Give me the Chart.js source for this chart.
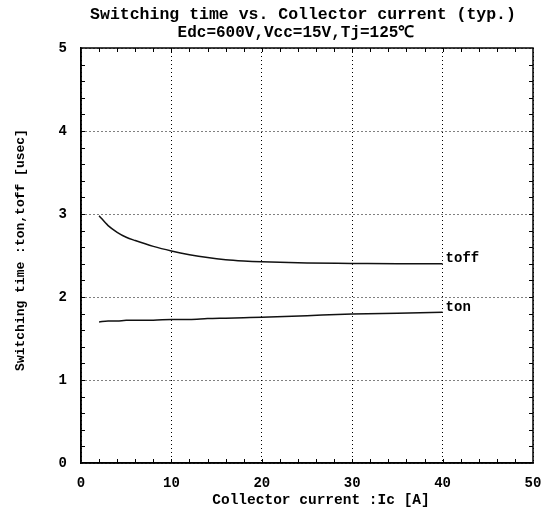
<!DOCTYPE html>
<html>
<head>
<meta charset="utf-8">
<script src="https://cdn.jsdelivr.net/npm/chart.js@4"></script>
<style>
  html, body { margin: 0; padding: 0; background: #fff; }
  #wrap { width: 555px; height: 517px; }
</style>
</head>
<body>
<div id="wrap"><canvas id="swChart" width="555" height="517"></canvas></div>
<script>
// 그래프 값
const current = [2, 3, 4, 5, 6, 8, 10, 12, 14, 16, 18, 20, 25, 30, 35, 40]; // Ic [A]
const toff = [2.98, 2.86, 2.78, 2.72, 2.68, 2.61, 2.555, 2.51, 2.475, 2.45, 2.435, 2.425, 2.41, 2.405, 2.40, 2.40];
const ton = [1.70, 1.71, 1.71, 1.72, 1.72, 1.72, 1.73, 1.73, 1.74, 1.745, 1.75, 1.755, 1.775, 1.795, 1.805, 1.815];
const xTicks = [0, 10, 20, 30, 40, 50];
const yTicks = [0, 1, 2, 3, 4, 5];
const seriesNames = ["toff", "ton"];
const titleLines = ["Switching time vs. Collector current (typ.)", "Edc=600V,Vcc=15V,Tj=125\u2103"];
const xTitle = "Collector current :Ic [A]";
const yTitle = "Switching time :ton,toff [usec]";

const FONT = "'Liberation Mono', 'DejaVu Sans Mono', monospace";

// 안쪽 보조 눈금, 곡선 이름, 제목들
const extras = {
  id: "extras",
  afterDraw(chart) {
    const { ctx, chartArea: a, scales: { x, y } } = chart;
    ctx.save();
    ctx.strokeStyle = "#000";
    ctx.lineWidth = 1;
    ctx.beginPath();
    for (let v = 2; v < 50; v += 2) {
      const px = Math.round(x.getPixelForValue(v)) + 0.5;
      ctx.moveTo(px, a.bottom); ctx.lineTo(px, a.bottom - 4);
      ctx.moveTo(px, a.top); ctx.lineTo(px, a.top + 4);
    }
    for (let i = 1; i < 25; i++) {
      const py = Math.round(y.getPixelForValue(i * 0.2)) + 0.5;
      ctx.moveTo(a.left, py); ctx.lineTo(a.left + 4, py);
      ctx.moveTo(a.right, py); ctx.lineTo(a.right - 4, py);
    }
    ctx.stroke();

    // 테두리
    ctx.lineWidth = 1.5;
    ctx.strokeRect(a.left, a.top, a.right - a.left, a.bottom - a.top);

    ctx.fillStyle = "#000";
    ctx.textBaseline = "middle";
    ctx.textAlign = "left";
    ctx.font = "bold 14px " + FONT;
    const last = current.length - 1;
    ctx.fillText(seriesNames[0], x.getPixelForValue(current[last]) + 3, y.getPixelForValue(toff[last]) - 5);
    ctx.fillText(seriesNames[1], x.getPixelForValue(current[last]) + 3, y.getPixelForValue(ton[last]) - 5);

    ctx.textAlign = "center";
    ctx.font = "bold 16.5px " + FONT;
    ctx.fillText(titleLines[0], 303, 15);
    ctx.font = "bold 16px " + FONT;
    ctx.fillText(titleLines[1], 296, 33);

    ctx.font = "bold 14.5px " + FONT;
    ctx.fillText(xTitle, 321, 500);

    ctx.translate(21, 250);
    ctx.rotate(-Math.PI / 2);
    ctx.font = "bold 13px " + FONT;
    ctx.fillText(yTitle, 0, 0);
    ctx.restore();
  }
};

const ctx = document.getElementById("swChart").getContext("2d");

new Chart(ctx, {
  type: "line",
  data: {
    datasets: [
      {
        label: seriesNames[0],
        data: current.map((c, i) => ({ x: c, y: toff[i] })),
        borderColor: "#111",
        borderWidth: 1.5,
        pointRadius: 0,
        cubicInterpolationMode: "monotone"
      },
      {
        label: seriesNames[1],
        data: current.map((c, i) => ({ x: c, y: ton[i] })),
        borderColor: "#111",
        borderWidth: 1.5,
        pointRadius: 0,
        cubicInterpolationMode: "monotone"
      }
    ]
  },
  options: {
    responsive: false,
    animation: false,
    layout: { padding: { top: 48, right: 22, left: 0, bottom: 0 } },
    plugins: {
      legend: { display: false },
      tooltip: { enabled: false },
      title: { display: false }
    },
    scales: {
      x: {
        type: "linear",
        min: 0, max: 50,
        afterBuildTicks: (s) => { s.ticks = xTicks.map(v => ({ value: v })); },
        afterFit: (s) => { s.height = 54; },
        ticks: { color: "#000", font: { family: FONT, size: 14, weight: "bold" }, padding: 12 },
        grid: { color: "#000", lineWidth: 1, drawTicks: false },
        border: { display: true, color: "#000", width: 1.5, dash: [1, 3] }
      },
      y: {
        type: "linear",
        min: 0, max: 5,
        afterBuildTicks: (s) => { s.ticks = yTicks.map(v => ({ value: v })); },
        afterFit: (s) => { s.width = 81; },
        ticks: { color: "#000", font: { family: FONT, size: 14, weight: "bold" }, padding: 14 },
        grid: { color: "#000", lineWidth: 1, drawTicks: false },
        border: { display: true, color: "#000", width: 1.5, dash: [1, 3] }
      }
    }
  },
  plugins: [extras]
});
</script>
</body>
</html>
